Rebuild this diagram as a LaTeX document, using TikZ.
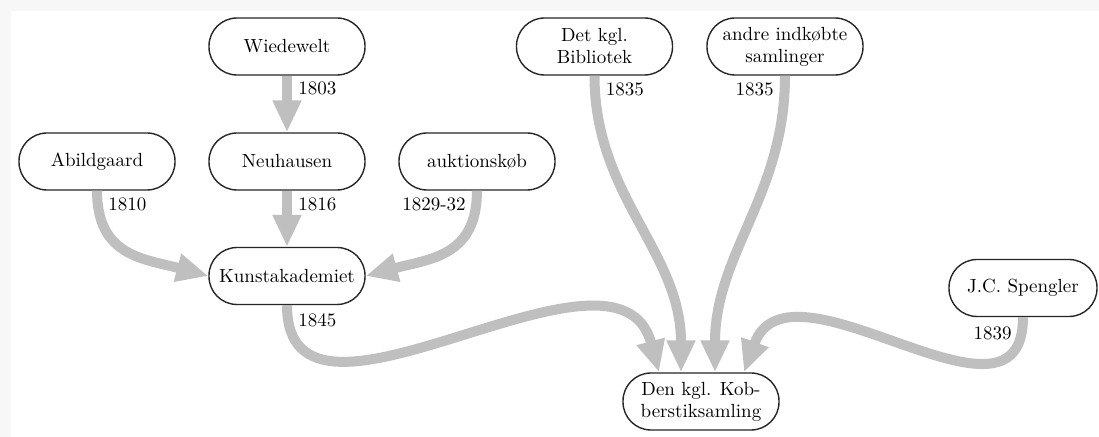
\documentclass[tikz,border=0pt]{standalone}
\usepackage{fontspec}
\usetikzlibrary{arrows.meta,positioning}

\begin{document}
\begin{tikzpicture}[x=0.5pt, y=-0.5pt,
	samling/.style={draw=black!85, line width=0.7pt, rounded corners=14pt, align=center,
		minimum width=78pt, minimum height=28.5pt, inner sep=1pt, font=\fontsize{9.5}{11}\selectfont},
	aar/.style={inner sep=1pt, font=\fontsize{9.5}{11}\selectfont},
	flyt/.style={draw=black!25, line width=5pt, -{Triangle[length=16pt, width=13.5pt]}}]
	\useasboundingbox (0,0) rectangle (1099,437);
	\fill[black!3] (0,0) rectangle (1099,437);
	\fill[white] (11,11) rectangle (1099,437);

	\node [samling] (wiedewelt) at (287,46.5) {Wiedewelt};
	\node [samling] (abildgaard) at (97,161.5) {Abildgaard};
	\node [samling] (neuhausen) at (287,161.5) {Neuhausen};
	\node [samling] (auktion) at (477,161.5) {auktionskøb};
	\node [samling] (kunst) at (287,276) {Kunstakademiet};
	\node [samling] (bibliotek) at (594.5,46.5) {Det kgl.\\Bibliotek};
	\node [samling] (andre) at (785,46.5) {andre indkøbte\\samlinger};
	\node [samling, minimum width=74pt] (spengler) at (1023,288) {J.C. Spengler};
	\node [samling] (den) at (701,401.5) {Den kgl. Kob-\\berstiksamling};

	\node [aar, below right=2pt and 4.5pt of wiedewelt.south] (a1803) {1803};
	\node [aar, below right=2.5pt and 4.5pt of abildgaard.south] (a1810) {1810};
	\node [aar, below right=2.5pt and 4.5pt of neuhausen.south] (a1816) {1816};
	\node [aar, below left=2.5pt and 4.5pt of auktion.south] (a1829) {1829-32};
	\node [aar, below right=2.5pt and 4.5pt of bibliotek.south] (a1835b) {1835};
	\node [aar, below left=2.5pt and 4.5pt of andre.south] (a1835a) {1835};
	\node [aar, below right=3pt and 4.5pt of kunst.south] (a1845) {1845};
	\node [aar, below left=3.5pt and 4.5pt of spengler.south] (a1839) {1839};

	\draw [flyt] (wiedewelt) -- (neuhausen);
	\draw [flyt] (neuhausen) -- (kunst);
	\draw [flyt] (abildgaard.south) to[out=-90, in=165, looseness=1.2] (kunst.west);
	\draw [flyt] (auktion.south) to[out=-90, in=15, looseness=1.2] (kunst.east);
	\draw [flyt] (kunst.south) to[out=-90, in=105, looseness=1.1] ([xshift=-21pt]den.north);
	\draw [flyt] (bibliotek.south) to[out=-90, in=90] ([xshift=-10pt]den.north);
	\draw [flyt] (andre.south) to[out=-90, in=90] ([xshift=7pt]den.north);
	\draw [flyt] (spengler.south) to[out=-90, in=70, looseness=1.2] ([xshift=21.5pt]den.north);
\end{tikzpicture}
\end{document}
